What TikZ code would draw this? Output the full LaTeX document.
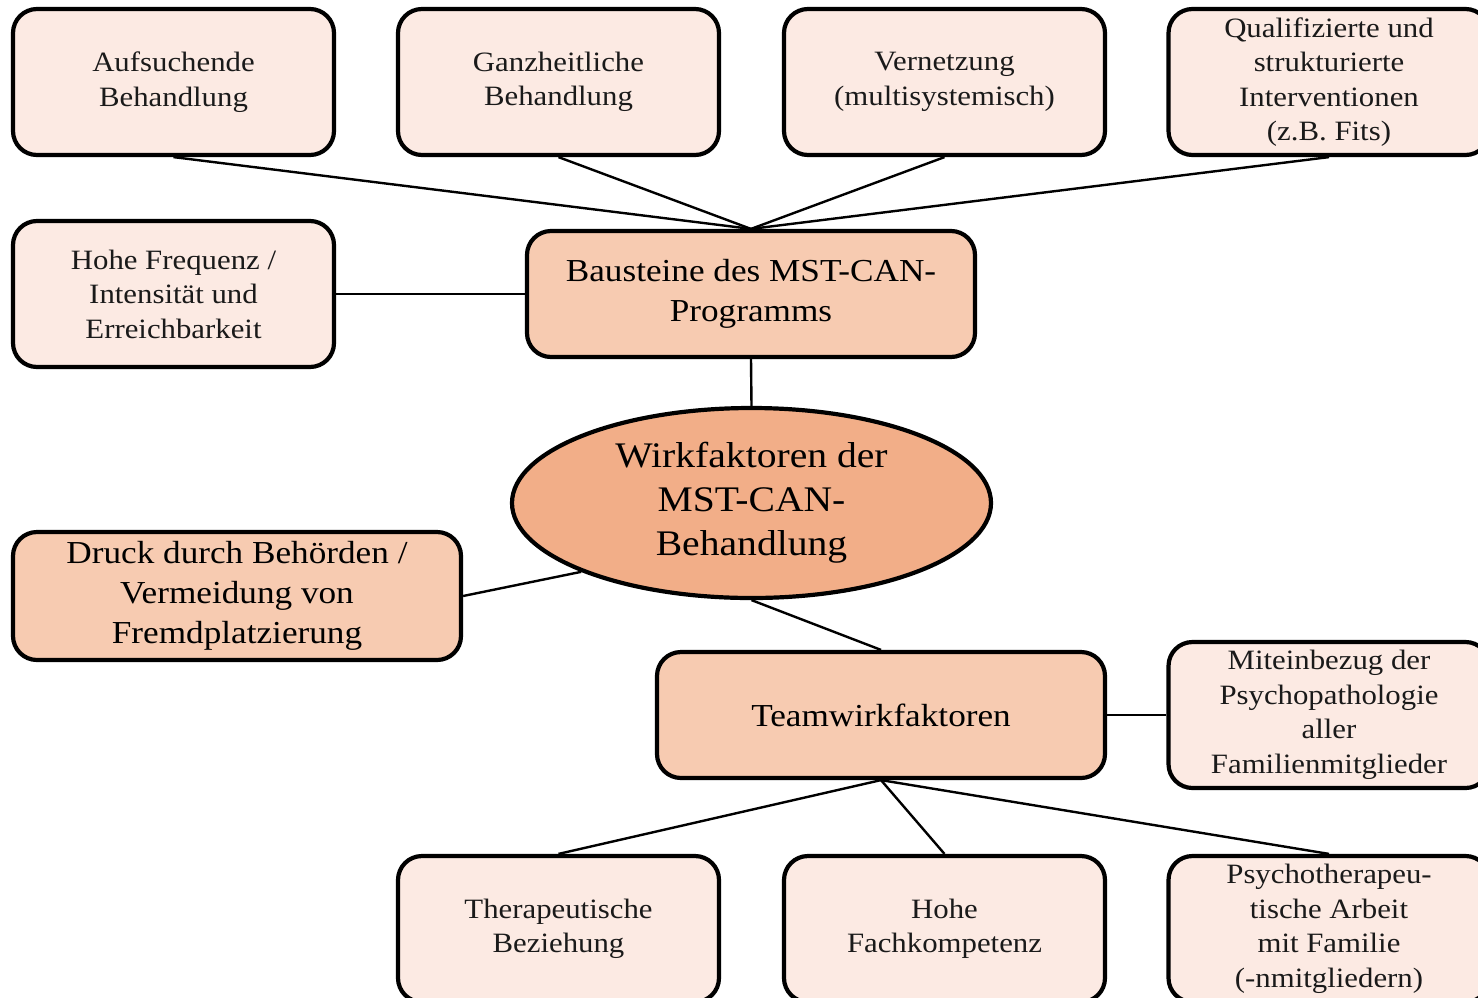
\documentclass[tikz,border=0pt]{standalone}
\usepackage{fontspec}
\setmainfont{Liberation Serif}[FakeStretch=1.1]
\usetikzlibrary{shapes.geometric,backgrounds}
\definecolor{leaf}{HTML}{FCEAE3}
\definecolor{hub}{HTML}{F7CBB1}
\definecolor{core}{HTML}{F2AE88}
\definecolor{ink}{HTML}{1A1A1A}
\tikzset{
  box/.style={draw=black, line width=4.2pt, rounded corners=24pt, align=center, inner sep=0pt},
  leafbox/.style={box, fill=leaf, text=ink, minimum width=321pt, minimum height=146pt,
    font=\fontsize{28}{34.5}\selectfont},
  hubbox/.style={box, fill=hub, minimum width=448pt, minimum height=126pt,
    font=\fontsize{32}{40}\selectfont},
  corenode/.style={ellipse, draw=black, line width=4.2pt, fill=core, align=center, inner sep=0pt,
    minimum width=479pt, minimum height=190pt, font=\fontsize{36}{44}\selectfont},
  link/.style={line width=2.4pt},
}
\begin{document}
\begin{tikzpicture}[x=1pt, y=-1pt]
\useasboundingbox (0,0) rectangle (1478,997);
\clip (0,0) rectangle (1478,997);

% building blocks
\node[leafbox] (aufs) at (173.5,82) {Aufsuchende\\Behandlung};
\node[leafbox] (ganz) at (558.5,82) {Ganzheitliche\\Behandlung};
\node[leafbox] (vern) at (944.5,82) {Vernetzung\\(multisystemisch)};
\node[leafbox] (qual) at (1329,82) {Qualifizierte und\\strukturierte\\Interventionen\\(z.B. Fits)};
\node[leafbox] (freq) at (173.5,294) {Hohe Frequenz /\\Intensität und\\Erreichbarkeit};
\node[hubbox] (baus) at (751,294) {Bausteine des MST-CAN-\\Programms};

% centre
\node[corenode] (wirk) at (751.5,503) {Wirkfaktoren der\\MST-CAN-\\Behandlung};
\node[hubbox, minimum height=128pt] (druck) at (237,596) {Druck durch Behörden /\\Vermeidung von\\Fremdplatzierung};

% team factors
\node[hubbox] (team) at (881,715) {Teamwirkfaktoren};
\node[leafbox] (mit) at (1329,715) {Miteinbezug der\\Psychopathologie\\aller\\Familienmitglieder};
\node[leafbox] (ther) at (558.5,929) {Therapeutische\\Beziehung};
\node[leafbox] (fach) at (944.5,929) {Hohe\\Fachkompetenz};
\node[leafbox] (psy) at (1329,929) {Psychotherapeu-\\tische Arbeit\\mit Familie\\(-nmitgliedern)};

\begin{scope}[on background layer]
  \draw[link] (aufs.south) -- (baus.north);
  \draw[link] (ganz.south) -- (baus.north);
  \draw[link] (vern.south) -- (baus.north);
  \draw[link] (qual.south) -- (baus.north);
  \draw[link] (freq.east) -- (baus.west);
  \draw[link] (baus.south) -- (wirk.north);
  \draw[link] (druck.east) -- (wirk.202);
  \draw[link] (wirk.south) -- (team.north);
  \draw[link] (team.east) -- (mit.west);
  \draw[link] (team.south) -- (ther.north);
  \draw[link] (team.south) -- (fach.north);
  \draw[link] (team.south) -- (psy.north);
\end{scope}
\end{tikzpicture}
\end{document}
